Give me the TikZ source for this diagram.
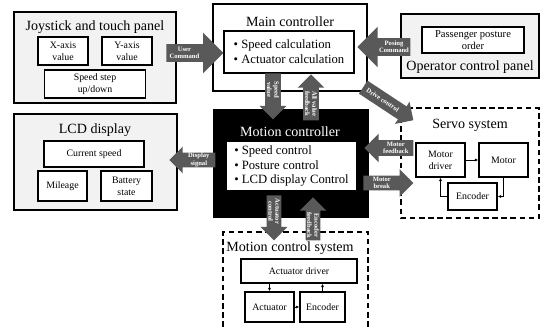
\documentclass[tikz,border=0pt]{standalone}
\usepackage{fontspec}
\setmainfont{Liberation Serif}
\usetikzlibrary{shapes.arrows,calc,arrows.meta}
\definecolor{panelgray}{HTML}{F2F2F2}
\definecolor{arrowgray}{HTML}{595959}
\newcommand\pxu{0.025cm}
\tikzset{
  panel/.style={draw, line width=0.9pt, fill=panelgray, inner sep=0pt},
  framebox/.style={draw, line width=0.9pt, fill=white, inner sep=0pt},
  dashframe/.style={line width=1.1pt, dash pattern=on 4pt off 2.5pt},
  item/.style={draw, line width=0.9pt, fill=white, align=center, inner sep=1pt, font=\fontsize{7}{8.4}\selectfont},
  title/.style={font=\fontsize{10}{12}\selectfont, inner sep=0pt},
  bullets/.style={align=left, font=\fontsize{9}{10.6}\selectfont},
  boxdim/.style 2 args={minimum width=#1*\pxu, minimum height=#2*\pxu},
  fatarrow/.style={single arrow, fill=arrowgray, inner xsep=0pt, single arrow head indent=0pt, minimum width=0pt},
  arrowdim/.style n args={3}{minimum height=#1*\pxu, inner ysep=#2/2*\pxu, single arrow head extend=(#3-#2)/2*\pxu},
  arrowtext/.style={text=white, align=center, inner sep=0pt, font=\bfseries\fontsize{4.7}{5.1}\selectfont},
  thinline/.style={line width=0.5pt, -{Latex[length=2.5pt,width=2.2pt]}}
}
\begin{document}
\begin{tikzpicture}[x=\pxu, y=-\pxu]
\useasboundingbox (0,0) rectangle (541,327);
% Joystick and touch panel
\node[panel, boxdim={162}{91}] (joy) at (95,57.5) {};
\node[title] (joytitle) at (95,27) {Joystick and touch panel};
\node[item, boxdim={50}{28}] (xaxis) at (63,51) {X-axis\\value};
\node[item, boxdim={50}{28}] (yaxis) at (127,51) {Y-axis\\value};
\node[item, boxdim={101}{28}] (speedstep) at (95,84) {Speed step\\up/down};
% Main controller
\node[framebox, boxdim={154}{87}] (main) at (290,47.5) {};
\node[title] (maintitle) at (290,22) {Main controller};
\node[framebox, bullets, boxdim={130}{42}] (mainlist) at (289,52) {\textbullet\ Speed calculation\\\textbullet\ Actuator calculation};
% Operator control panel
\node[panel, boxdim={138}{64}] (oper) at (470,46) {};
\node[item, boxdim={102}{26}, font=\fontsize{7.5}{8.6}\selectfont] (posture) at (473,40) {Passenger posture\\order};
\node[title] (opertitle) at (470,67) {Operator control panel};
% LCD display
\node[panel, boxdim={163}{96}] (lcd) at (95.5,162) {};
\node[title] (lcdtitle) at (95,130) {LCD display};
\node[item, boxdim={100}{26}] (curspeed) at (94,154) {Current speed};
\node[item, boxdim={49}{30}] (mileage) at (62.5,186) {Mileage};
\node[item, boxdim={51}{30}] (battery) at (126.5,186) {Battery\\state};
% Motion controller
\node[draw, fill=black, boxdim={155}{108}] (motion) at (290.5,163) {};
\node[title, text=white] (motiontitle) at (290,132) {Motion controller};
\node[framebox, bullets, boxdim={131}{50}] (motionlist) at (291.5,166) {\textbullet\ Speed control\\\textbullet\ Posture control\\\textbullet\ LCD display Control};
% Servo system
\draw[dashframe] (401,108) rectangle (539,218);
\node[title] (servotitle) at (470,125) {Servo system};
\node[item, boxdim={49}{34}] (mdriver) at (440.5,160) {Motor\\driver};
\node[item, boxdim={49}{34}] (motor) at (503.5,160) {Motor};
\node[item, boxdim={49}{27}] (sencoder) at (472.5,196.5) {Encoder};
\draw[thinline] (mdriver) -- (motor);
\draw[thinline] (motor.south) |- (sencoder.east);
\draw[thinline] (sencoder.west) -| (mdriver.south);
% Motion control system
\draw[dashframe] (223,327) -- (223,232) -- (368,232) -- (368,327);
\node[title] (mcstitle) at (290,248) {Motion control system};
\node[item, boxdim={116}{24}] (adriver) at (299,271) {Actuator driver};
\node[item, boxdim={49}{30}] (actuator) at (269.5,307) {Actuator};
\node[item, boxdim={45}{30}] (mencoder) at (322.5,307) {Encoder};
\draw[thinline] (adriver.south -| actuator.north) -- (actuator.north);
\draw[thinline] (actuator) -- (mencoder);
\draw[thinline] (mencoder.north) -- (mencoder.north |- adriver.south);
% Signal arrows
\node[fatarrow, arrowdim={57}{17}{40}, anchor=tail] (usercmd) at (166,53) {};
\node[arrowtext] (usercmdtext) at ($(usercmd.tail)!0.32!(usercmd.tip)$) {User\\Command};
\node[fatarrow, arrowdim={53}{17}{40}, rotate=180, anchor=tip] (posing) at (357,47) {};
\node[arrowtext] (posingtext) at ($(posing.tail)!0.31!(posing.tip)$) {Posing\\Command};
\node[fatarrow, arrowdim={46}{15}{26}, rotate=-90, anchor=tail] (speedval) at (273,73) {};
\node[arrowtext, rotate=-90] (speedvaltext) at ($(speedval.tail)!0.36!(speedval.tip)$) {Speed\\value};
\node[fatarrow, arrowdim={46}{15}{26}, rotate=90, anchor=tip] (allval) at (311,74) {};
\node[arrowtext, rotate=-90] (allvaltext) at ($(allval.tail)!0.36!(allval.tip)$) {All value\\feedback};
\node[fatarrow, arrowdim={60}{15}{26}, rotate=-33.4, anchor=tail] (drive) at (363,87) {};
\node[arrowtext, rotate=-33.4] (drivetext) at ($(drive.tail)!0.39!(drive.tip)$) {Drive control};
\node[fatarrow, arrowdim={49}{15}{28}, rotate=180, anchor=tip] (motorfb) at (364,148) {};
\node[arrowtext] (motorfbtext) at ($(motorfb.tail)!0.36!(motorfb.tip)$) {Motor\\feedback};
\node[fatarrow, arrowdim={50}{14}{27}, anchor=tail] (motorbrk) at (363,183) {};
\node[arrowtext] (motorbrktext) at ($(motorbrk.tail)!0.37!(motorbrk.tip)$) {Motor\\break};
\node[fatarrow, arrowdim={46}{14}{26}, rotate=180, anchor=tip] (display) at (169,160) {};
\node[arrowtext] (displaytext) at ($(display.tail)!0.36!(display.tip)$) {Display\\signal};
\node[fatarrow, arrowdim={45}{14}{26}, rotate=-90, anchor=tail] (actctrl) at (274,195) {};
\node[arrowtext, rotate=-90] (actctrltext) at ($(actctrl.tail)!0.36!(actctrl.tip)$) {Actuator\\control};
\node[fatarrow, arrowdim={43}{14}{26}, rotate=90, anchor=tip] (encfb) at (313,197) {};
\node[arrowtext, rotate=-90] (encfbtext) at ($(encfb.tail)!0.35!(encfb.tip)$) {Encoder\\feedback};
\end{tikzpicture}
\end{document}
